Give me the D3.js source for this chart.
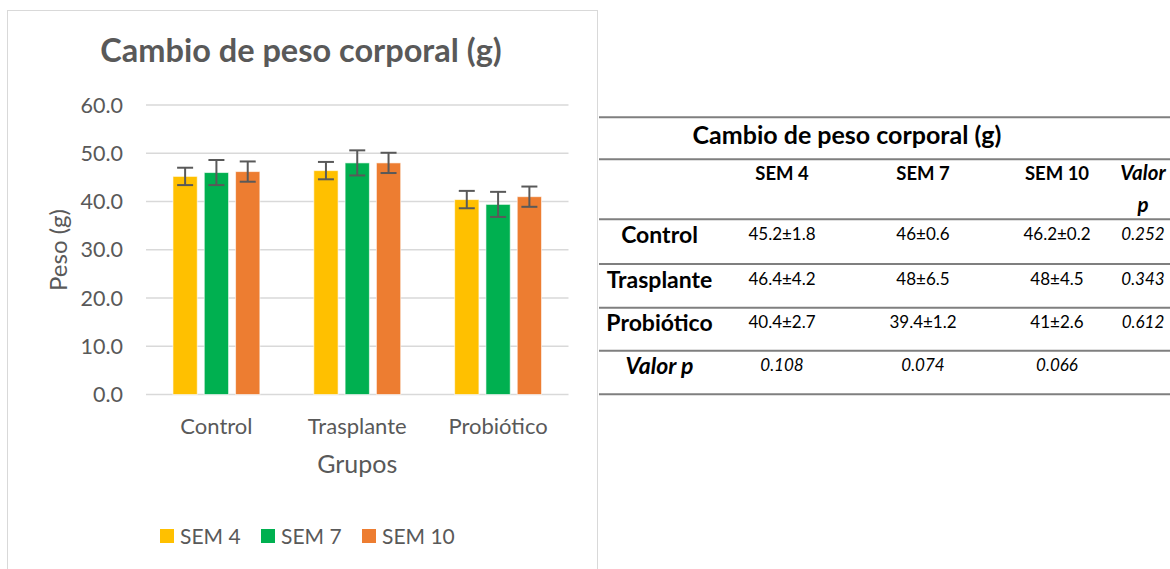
<!DOCTYPE html>
<html>
<head>
<meta charset="utf-8">
<script src="https://cdn.jsdelivr.net/npm/d3@7"></script>
<style>
  body { margin: 0; background: #fff; }
  text { font-family: Lato, "Open Sans", sans-serif; }
</style>
</head>
<body>
<div class="chart"></div>
<script>
const groups = ["Control", "Trasplante", "Probiótico"]
const series = ["SEM 4", "SEM 7", "SEM 10"]
const sem4 = [45.2, 46.4, 40.4]
const sem7 = [46, 48, 39.4]
const sem10 = [46.2, 48, 41]
// error bars as drawn in the picture
const err4 = [1.8, 1.8, 1.8]
const err7 = [2.6, 2.6, 2.6]
const err10 = [2.1, 2.1, 2.1]
const yTicks = [0, 10, 20, 30, 40, 50, 60]

// table values
const sd4 = [1.8, 4.2, 2.7]
const sd7 = [0.6, 6.5, 1.2]
const sd10 = [0.2, 4.5, 2.6]
const pRows = ["0.252", "0.343", "0.612"]
const pCols = ["0.108", "0.074", "0.066"]

const colors = ["#FFC000", "#00B050", "#ED7D31"]
const textGray = "#595959"

const width = 1170, height = 569
const svg = d3.select(".chart").append("svg")
    .attr("width", width)
    .attr("height", height)

svg.append("rect").attr("width", width).attr("height", height).attr("fill", "#fff")

// chart frame
svg.append("rect")
    .attr("x", 7.5).attr("y", 10.5)
    .attr("width", 590).attr("height", 600)
    .attr("fill", "#fff")
    .attr("stroke", "#d9d9d9")

const plot = { left: 146, right: 568.5, top: 105, bottom: 394.5 }

const y = d3.scaleLinear().domain([0, 60]).range([plot.bottom, plot.top])
const x0 = d3.scaleBand().domain(groups).range([plot.left, plot.right])
const groupW = x0.bandwidth() * 0.617
const x1 = d3.scaleBand().domain(series).range([0, groupW]).paddingInner(0.224)

// gridlines + ticks
svg.append("g").selectAll("line")
    .data(yTicks)
    .enter().append("line")
    .attr("x1", plot.left).attr("x2", plot.right)
    .attr("y1", d => y(d)).attr("y2", d => y(d))
    .attr("stroke", "#d9d9d9")
    .attr("stroke-width", 1.5)

svg.append("g").selectAll("text")
    .data(yTicks)
    .enter().append("text")
    .attr("x", 123)
    .attr("y", d => y(d) + 7.5)
    .attr("text-anchor", "end")
    .attr("font-size", 21.5)
    .attr("fill", textGray)
    .text(d3.format(".1f"))

// bars
const values = [sem4, sem7, sem10]
const errors = [err4, err7, err10]
const barData = []
groups.forEach((g, gi) => {
    series.forEach((s, si) => {
        barData.push({ group: g, series: s, si: si, value: values[si][gi], err: errors[si][gi] })
    })
})

const barX = d => x0(d.group) + (x0.bandwidth() - groupW) / 2 + x1(d.series)

svg.append("g").selectAll("rect")
    .data(barData)
    .enter().append("rect")
    .attr("x", barX)
    .attr("y", d => y(d.value))
    .attr("width", x1.bandwidth())
    .attr("height", d => y(0) - y(d.value))
    .attr("fill", d => colors[d.si])
    .attr("stroke", "#fff")
    .attr("stroke-opacity", 0.6)
    .attr("stroke-width", 1)

// error bars
const eb = svg.append("g").selectAll("g")
    .data(barData)
    .enter().append("g")
    .attr("stroke", textGray)
    .attr("stroke-width", 2)
const cx = d => barX(d) + x1.bandwidth() / 2
eb.append("line")
    .attr("x1", cx).attr("x2", cx)
    .attr("y1", d => y(d.value + d.err)).attr("y2", d => y(d.value - d.err))
eb.append("line")
    .attr("x1", d => cx(d) - 8).attr("x2", d => cx(d) + 8)
    .attr("y1", d => y(d.value + d.err)).attr("y2", d => y(d.value + d.err))
eb.append("line")
    .attr("x1", d => cx(d) - 8).attr("x2", d => cx(d) + 8)
    .attr("y1", d => y(d.value - d.err)).attr("y2", d => y(d.value - d.err))

// category labels
svg.append("g").selectAll("text")
    .data(groups)
    .enter().append("text")
    .attr("x", d => x0(d) + x0.bandwidth() / 2)
    .attr("y", 433.5)
    .attr("text-anchor", "middle")
    .attr("font-size", 22)
    .attr("fill", textGray)
    .text(d => d)

svg.append("text")
    .attr("x", (plot.left + plot.right) / 2)
    .attr("y", 472.5)
    .attr("text-anchor", "middle")
    .attr("font-size", 25)
    .attr("fill", textGray)
    .text("Grupos")

svg.append("text")
    .attr("transform", "translate(66.5,250) rotate(-90)")
    .attr("text-anchor", "middle")
    .attr("font-size", 24)
    .attr("fill", textGray)
    .text("Peso (g)")

svg.append("text")
    .attr("x", 301)
    .attr("y", 62)
    .attr("text-anchor", "middle")
    .attr("font-size", 32.5)
    .attr("font-weight", "bold")
    .attr("fill", textGray)
    .text("Cambio de peso corporal (g)")

// legend
const legendX = [160, 261, 362]
const legend = svg.append("g").selectAll("g")
    .data(series)
    .enter().append("g")
    .attr("transform", (d, i) => `translate(${legendX[i]},529)`)
legend.append("rect")
    .attr("width", 14).attr("height", 14)
    .attr("fill", (d, i) => colors[i])
legend.append("text")
    .attr("x", 20).attr("y", 14.5)
    .attr("font-size", 21)
    .attr("fill", textGray)
    .text(d => d)

// table
const table = svg.append("g")
const lineY = [117.3, 159.3, 219.3, 264, 307.7, 350.7, 394.3]
table.selectAll("line")
    .data(lineY)
    .enter().append("line")
    .attr("x1", 599).attr("x2", 1170)
    .attr("y1", d => d).attr("y2", d => d)
    .attr("stroke", "#7f7f7f")
    .attr("stroke-width", 2)

const colX = [659.5, 782, 923, 1057, 1143]

table.append("text")
    .attr("x", 847).attr("y", 143.5)
    .attr("text-anchor", "middle")
    .attr("font-size", 25)
    .attr("font-weight", "bold")
    .text("Cambio de peso corporal (g)")

table.selectAll(".head")
    .data(series)
    .enter().append("text")
    .attr("class", "head")
    .attr("x", (d, i) => colX[i + 1]).attr("y", 180)
    .attr("text-anchor", "middle")
    .attr("font-size", 18.5)
    .attr("font-weight", "bold")
    .text(d => d)

table.append("text")
    .attr("x", colX[4]).attr("y", 180)
    .attr("text-anchor", "middle")
    .attr("font-size", 20.5)
    .attr("font-weight", "bold")
    .attr("font-style", "italic")
    .text("Valor")
table.append("text")
    .attr("x", colX[4]).attr("y", 211.7)
    .attr("text-anchor", "middle")
    .attr("font-size", 20.5)
    .attr("font-weight", "bold")
    .attr("font-style", "italic")
    .text("p")

const rowTop = [219.3, 264, 307.7, 350.7]
const sds = [sd4, sd7, sd10]

table.selectAll(".rowlab")
    .data(groups.concat(["Valor p"]))
    .enter().append("text")
    .attr("class", "rowlab")
    .attr("x", colX[0])
    .attr("y", (d, i) => rowTop[i] + 23.5)
    .attr("text-anchor", "middle")
    .attr("font-size", 23)
    .attr("font-weight", "bold")
    .attr("font-style", (d, i) => i === 3 ? "italic" : null)
    .text(d => d)

const cells = []
groups.forEach((g, gi) => {
    series.forEach((s, si) => {
        cells.push({ row: gi, col: si + 1, text: `${values[si][gi]}±${sds[si][gi]}`, italic: false })
    })
    cells.push({ row: gi, col: 4, text: pRows[gi], italic: true })
})
pCols.forEach((p, i) => cells.push({ row: 3, col: i + 1, text: p, italic: true }))

table.selectAll(".cell")
    .data(cells)
    .enter().append("text")
    .attr("class", "cell")
    .attr("x", d => colX[d.col])
    .attr("y", d => rowTop[d.row] + 20.5)
    .attr("text-anchor", "middle")
    .attr("font-size", d => d.italic ? 17 : 17)
    .attr("font-style", d => d.italic ? "italic" : null)
    .text(d => d.text)
</script>
</body>
</html>
